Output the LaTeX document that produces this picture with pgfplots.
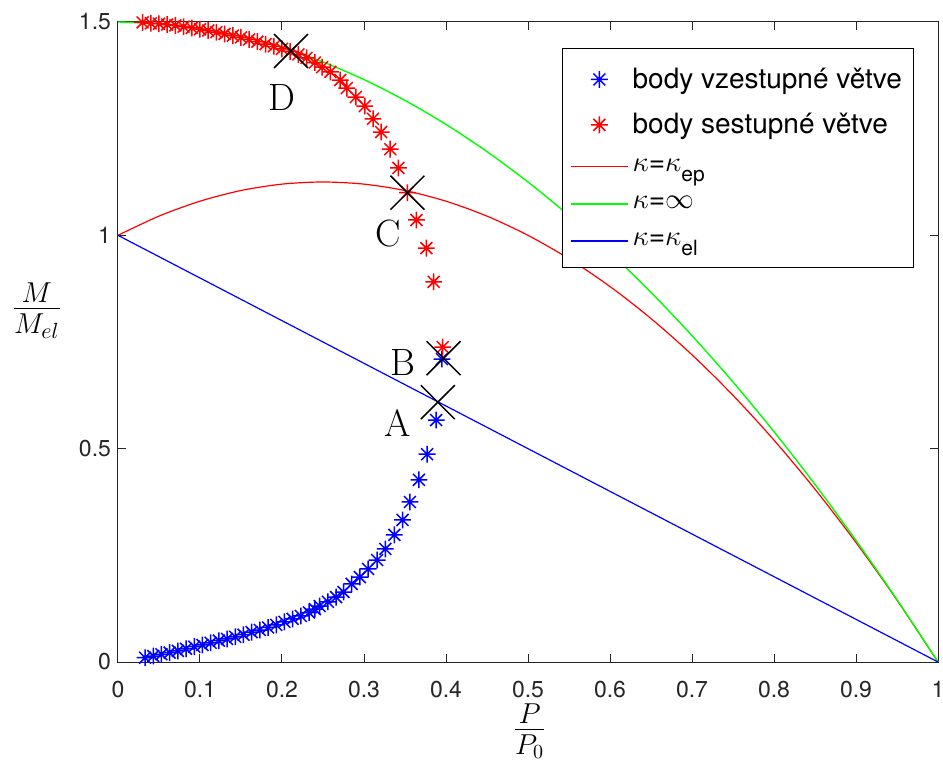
\documentclass[border=0pt]{standalone}
\usepackage{amsmath}
\usepackage{fontspec}
\setmainfont{TeX Gyre Heros}
\newfontfamily\lmr{Latin Modern Roman}
\usepackage{pgfplots}
\pgfplotsset{compat=1.18}

% MATLAB-style asterisk: plus and cross together
\pgfdeclareplotmark{mast}{%
  \pgfpathmoveto{\pgfqpoint{-\pgfplotmarksize}{0pt}}\pgfpathlineto{\pgfqpoint{\pgfplotmarksize}{0pt}}%
  \pgfpathmoveto{\pgfqpoint{0pt}{-\pgfplotmarksize}}\pgfpathlineto{\pgfqpoint{0pt}{\pgfplotmarksize}}%
  \pgfpathmoveto{\pgfqpoint{-.7071\pgfplotmarksize}{-.7071\pgfplotmarksize}}\pgfpathlineto{\pgfqpoint{.7071\pgfplotmarksize}{.7071\pgfplotmarksize}}%
  \pgfpathmoveto{\pgfqpoint{-.7071\pgfplotmarksize}{.7071\pgfplotmarksize}}\pgfpathlineto{\pgfqpoint{.7071\pgfplotmarksize}{-.7071\pgfplotmarksize}}%
  \pgfusepathqstroke}

\pgfplotsset{
  markleg/.style={legend image code/.code={\draw[mark repeat=2,mark phase=2,##1,only marks] plot coordinates {(0cm,0cm) (0.5cm,0cm) (1cm,0cm)};}},
  lineleg/.style={legend image code/.code={\draw[##1,line width=0.8pt] (0cm,0cm) -- (1cm,0cm);}},
}
\newcommand{\kfont}{\fontsize{14}{16}\selectfont}
\newcommand{\ksub}[1]{\raisebox{-5pt}{\fontsize{10.5}{12}\selectfont #1}}

\begin{document}
\begin{tikzpicture}
\begin{axis}[
    scale only axis, width=410pt, height=320pt,
    xmin=0, xmax=1, ymin=0, ymax=1.5,
    xtick={0,0.1,0.2,0.3,0.4,0.5,0.6,0.7,0.8,0.9,1},
    ytick={0,0.5,1,1.5},
    clip=false,
    tick align=inside, major tick length=4pt,
    axis line style={black!85, line width=0.5pt},
    every tick/.style={black!85, line width=0.5pt},
    tick label style={font=\fontsize{11.5}{13}\selectfont, color=black!85},
    xticklabel style={yshift=-6pt},
    /pgf/number format/assume math mode=true,
    xlabel={$\frac{P}{P_0}$},
    ylabel={$\frac{M}{M_{el}}$},
    xlabel style={font=\fontsize{19.5}{20}\selectfont, at={(axis description cs:0.502,-0.108)}, anchor=center},
    ylabel style={font=\fontsize{21}{21}\selectfont, rotate=-90, at={(axis description cs:-0.099,0.549)}, anchor=center},
    legend style={at={(axis description cs:0.541,0.959)}, anchor=north west,
                  draw=black, line width=0.5pt, font=\fontsize{14}{16}\selectfont,
                  row sep=7pt, inner xsep=4pt, inner ysep=7.5pt},
    legend cell align=left,
]
\addplot[only marks, mark=mast, mark size=4.2pt, blue, line width=0.75pt, markleg]
coordinates {
 (0.033,0.010) (0.043,0.014) (0.053,0.018) (0.063,0.022) (0.073,0.026)
 (0.083,0.031) (0.093,0.036) (0.103,0.040) (0.113,0.045) (0.123,0.050)
 (0.133,0.054) (0.143,0.059) (0.153,0.064) (0.163,0.070) (0.173,0.075)
 (0.183,0.081) (0.193,0.087) (0.203,0.094) (0.213,0.101) (0.223,0.108)
 (0.233,0.116) (0.240,0.124) (0.246,0.131) (0.256,0.141) (0.266,0.152)
 (0.275,0.164) (0.285,0.183) (0.295,0.199) (0.305,0.218) (0.316,0.239)
 (0.326,0.265) (0.337,0.298) (0.347,0.333) (0.356,0.375) (0.367,0.427)
 (0.377,0.487) (0.388,0.567) (0.395,0.710)
};
\addlegendentry{body vzestupné větve}
\addplot[only marks, mark=mast, mark size=4.2pt, red, line width=0.75pt, markleg]
coordinates {
 (0.030,1.499) (0.040,1.497) (0.050,1.496) (0.060,1.494) (0.070,1.492)
 (0.080,1.489) (0.090,1.486) (0.100,1.483) (0.110,1.480) (0.120,1.476)
 (0.130,1.472) (0.140,1.468) (0.150,1.464) (0.160,1.459) (0.170,1.454)
 (0.180,1.448) (0.190,1.443) (0.200,1.437) (0.210,1.431) (0.220,1.424)
 (0.230,1.416) (0.240,1.405) (0.249,1.394) (0.259,1.383) (0.271,1.364)
 (0.279,1.345) (0.290,1.324) (0.301,1.303) (0.311,1.273) (0.321,1.242)
 (0.332,1.202) (0.342,1.158) (0.353,1.100) (0.364,1.036) (0.376,0.970)
 (0.385,0.891) (0.396,0.738)
};
\addlegendentry{body sestupné větve}
\addplot[red, line width=0.6pt, smooth, lineleg]
coordinates {
 (0,1) (0.05,1.045) (0.1,1.08) (0.15,1.105) (0.2,1.12) (0.25,1.125)
 (0.3,1.12) (0.35,1.105) (0.4,1.08) (0.45,1.045) (0.5,1.0) (0.55,0.945)
 (0.6,0.88) (0.65,0.805) (0.7,0.72) (0.75,0.625) (0.8,0.52) (0.85,0.405)
 (0.9,0.28) (0.95,0.145) (1,0)
};
\addlegendentry{\kfont$\kappa$=$\kappa$\ksub{ep}}
\addplot[green, line width=0.7pt, smooth, lineleg]
coordinates {
 (0,1.5) (0.05,1.49625) (0.1,1.485) (0.15,1.46625) (0.2,1.44) (0.25,1.40625)
 (0.3,1.365) (0.35,1.31625) (0.4,1.26) (0.45,1.19625) (0.5,1.125) (0.55,1.04625)
 (0.6,0.96) (0.65,0.86625) (0.7,0.765) (0.75,0.65625) (0.8,0.54) (0.85,0.41625)
 (0.9,0.285) (0.95,0.14625) (1,0)
};
\addlegendentry{\kfont$\kappa$=$\infty$\rule[-6.5pt]{0pt}{6.5pt}}
\addplot[blue, line width=0.6pt, lineleg]
coordinates {(0,1) (1,0)};
\addlegendentry{\kfont$\kappa$=$\kappa$\ksub{el}}
\addplot[only marks, mark=x, mark size=12pt, black, line width=0.75pt, forget plot]
coordinates {(0.390,0.609) (0.397,0.712) (0.353,1.100) (0.211,1.432)};
\node[font=\lmr\fontsize{19}{19}\selectfont] at (axis cs:0.341,0.560) {A};
\node[font=\lmr\fontsize{19}{19}\selectfont] at (axis cs:0.348,0.703) {B};
\node[font=\lmr\fontsize{19}{19}\selectfont] at (axis cs:0.329,1.005) {C};
\node[font=\lmr\fontsize{19}{19}\selectfont] at (axis cs:0.200,1.324) {D};
\end{axis}
\pgfresetboundingbox
\path (-59pt,-49pt) rectangle (412.5pt,331pt);
\end{tikzpicture}
\end{document}
